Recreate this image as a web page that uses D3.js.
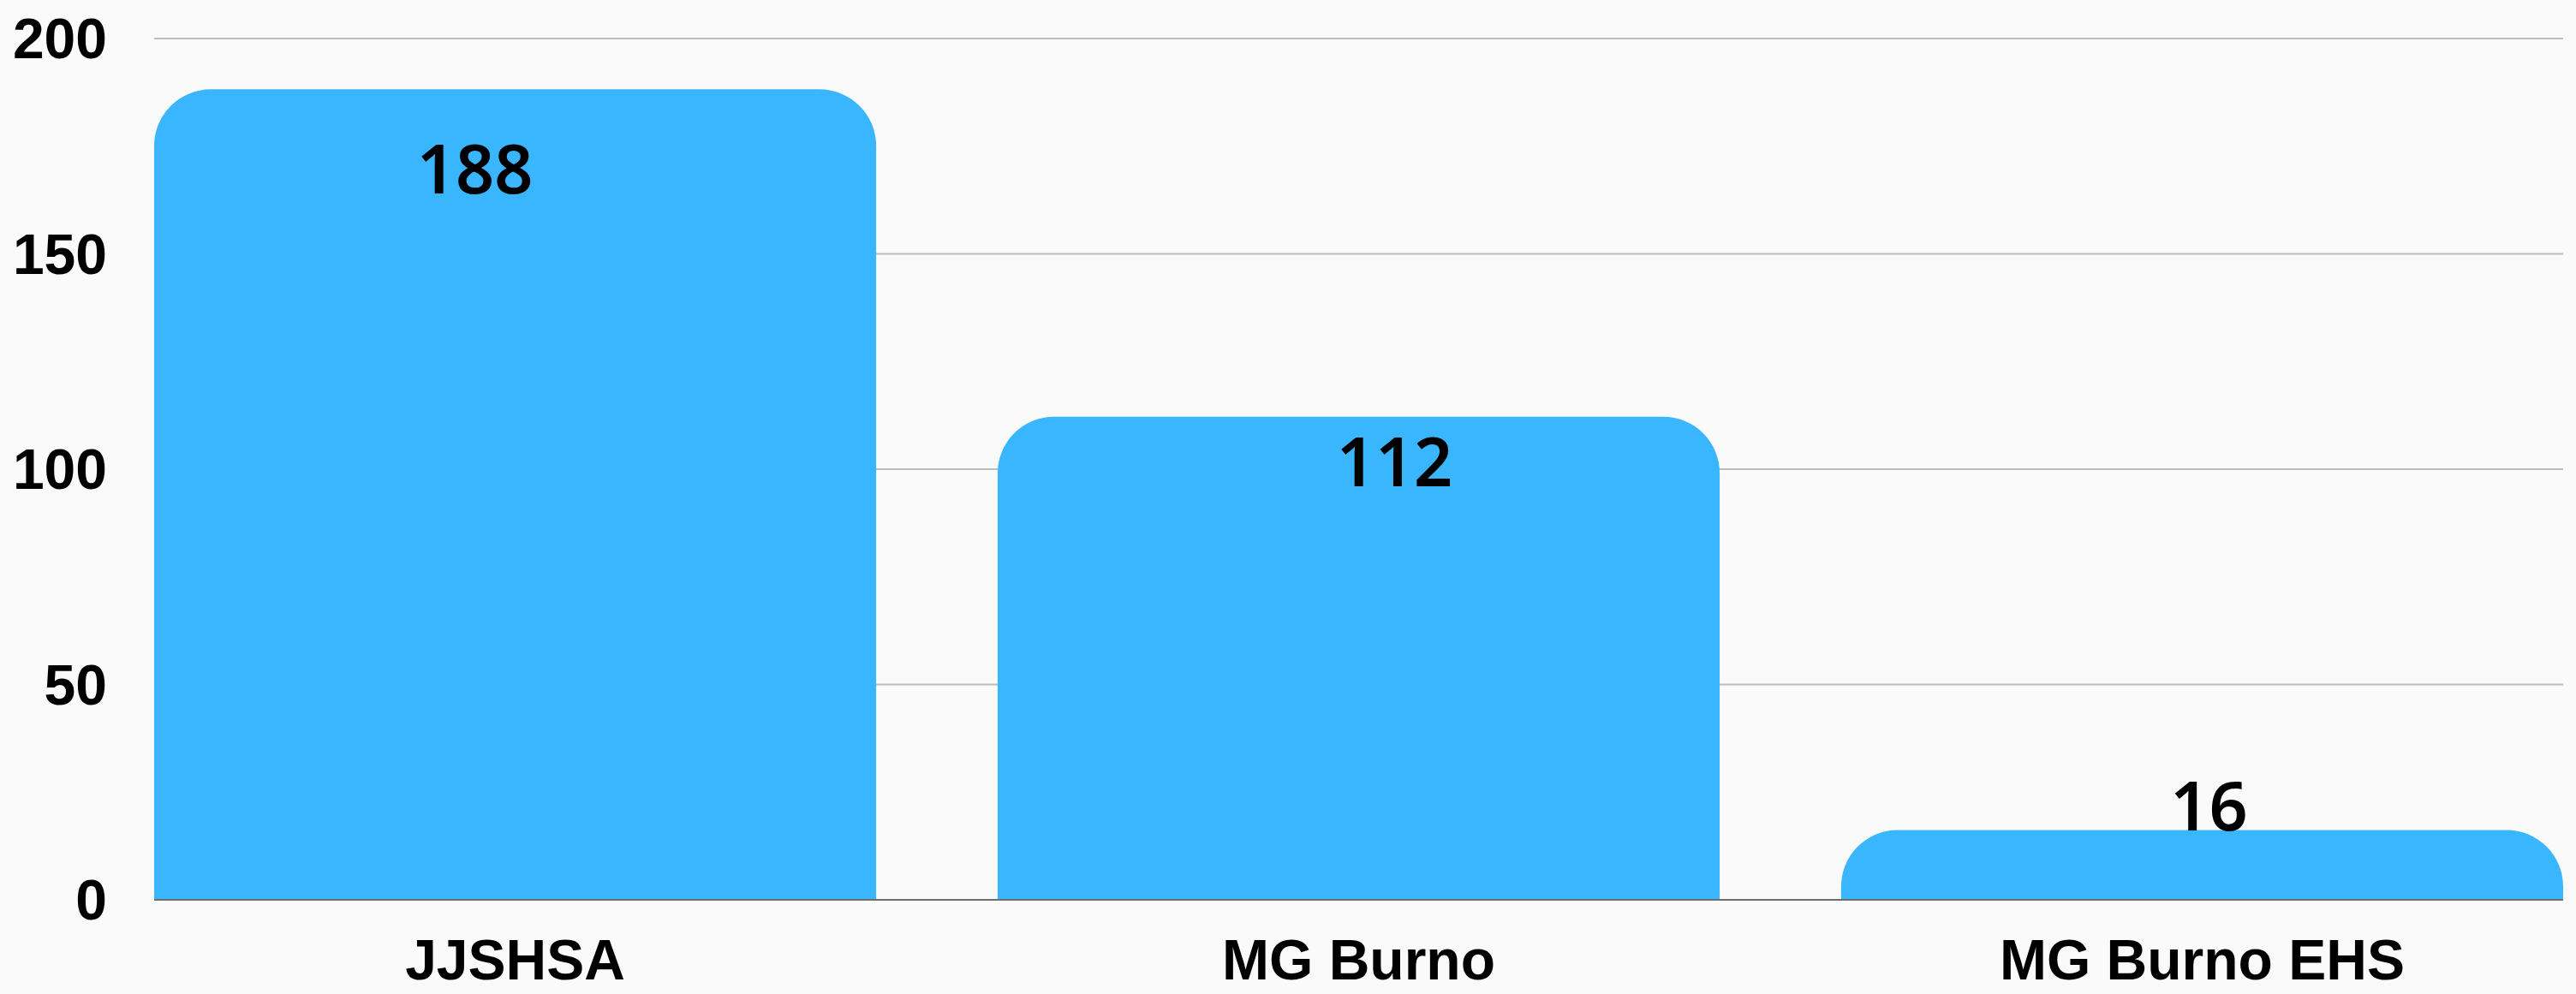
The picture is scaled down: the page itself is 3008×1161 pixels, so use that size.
<!DOCTYPE html>
<html>
<head>
<meta charset="utf-8">
<script src="https://cdn.jsdelivr.net/npm/d3@7"></script>
<style>
  html, body { margin: 0; padding: 0; background: #fafafa; }
  svg { display: block; }
</style>
</head>
<body>
<svg width="3008" height="1161"></svg>
<script>
// data
const categories = ["JJSHSA", "MG Burno", "MG Burno EHS"];
const values = [188, 112, 16];
const yTicks = [0, 50, 100, 150, 200];

const svg = d3.select("svg");
const margin = { top: 44, right: 15, bottom: 111, left: 180 };
const width = +svg.attr("width");
const height = +svg.attr("height");

svg.append("rect")
  .attr("width", width)
  .attr("height", height)
  .attr("fill", "#fafafa");

const x = d3.scaleBand()
  .domain(categories)
  .range([margin.left, width - margin.right])
  .paddingInner(0.144)
  .paddingOuter(0);

const y = d3.scaleLinear()
  .domain([0, 200])
  .range([height - margin.bottom, margin.top]);

// gridlines (no zero, that one is the baseline)
svg.append("g")
  .selectAll("line")
  .data(yTicks.filter(t => t > 0))
  .join("line")
  .attr("x1", margin.left)
  .attr("x2", width - margin.right)
  .attr("y1", d => y(d) + 1)
  .attr("y2", d => y(d) + 1)
  .attr("stroke", "#bcbcbc")
  .attr("stroke-width", 2);

// baseline
svg.append("line")
  .attr("x1", margin.left)
  .attr("x2", width - margin.right)
  .attr("y1", y(0) + 1)
  .attr("y2", y(0) + 1)
  .attr("stroke", "#6e6e6e")
  .attr("stroke-width", 2);

// y axis labels
const yAxis = svg.append("g")
  .attr("transform", `translate(${margin.left},0)`)
  .call(d3.axisLeft(y).tickValues(yTicks).tickSize(0).tickPadding(55));
yAxis.select(".domain").remove();
yAxis.selectAll("text")
  .attr("font-family", "'Liberation Sans', Arial, sans-serif")
  .attr("font-weight", "bold")
  .attr("font-size", 66)
  .attr("fill", "#000")
  .attr("dy", "0.36em");

// bars with rounded top corners
function topRounded(x0, y0, w, h, r) {
  r = Math.min(r, h, w / 2);
  return `M${x0},${y0 + h}` +
    `V${y0 + r}` +
    `A${r},${r} 0 0 1 ${x0 + r},${y0}` +
    `H${x0 + w - r}` +
    `A${r},${r} 0 0 1 ${x0 + w},${y0 + r}` +
    `V${y0 + h}Z`;
}

svg.append("g")
  .selectAll("path")
  .data(categories)
  .join("path")
  .attr("d", (c, i) => topRounded(x(c), y(values[i]), x.bandwidth(), y(0) - y(values[i]), 66))
  .attr("fill", "#3ab6ff");

// x axis labels
const xAxis = svg.append("g")
  .attr("transform", `translate(0,${y(0)})`)
  .call(d3.axisBottom(x).tickSize(0).tickPadding(47));
xAxis.select(".domain").remove();
xAxis.selectAll("text")
  .attr("font-family", "'Liberation Sans', Arial, sans-serif")
  .attr("font-weight", "bold")
  .attr("font-size", 66)
  .attr("fill", "#000");

// value labels (placement nudged to follow the original layout)
const labelDx = [-47, 42, 8];
const labelDy = [122, 81, 0];
svg.append("g")
  .selectAll("text")
  .data(categories)
  .join("text")
  .attr("x", (c, i) => x(c) + x.bandwidth() / 2 + labelDx[i])
  .attr("y", (c, i) => y(values[i]) + labelDy[i])
  .attr("text-anchor", "middle")
  .attr("font-family", "'Noto Sans', 'Open Sans', sans-serif")
  .attr("font-weight", 600)
  .attr("font-size", 79)
  .attr("fill", "#000")
  .text((c, i) => values[i]);
</script>
</body>
</html>
